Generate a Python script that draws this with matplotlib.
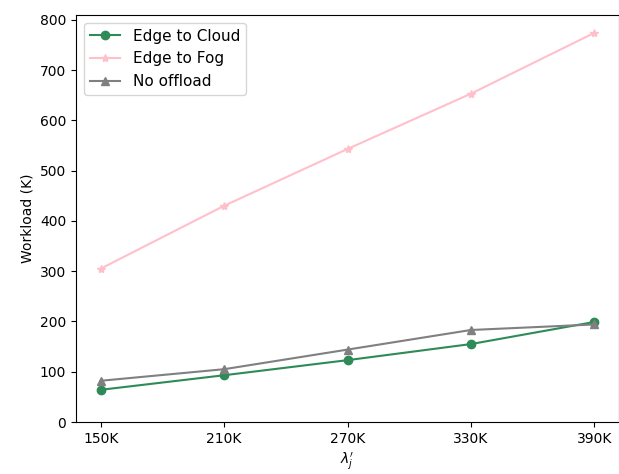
import matplotlib
matplotlib.use('Agg')
import matplotlib.pyplot as plt

# Workload per arrival rate
rates = ['150K', '210K', '270K', '330K', '390K']
edge_to_cloud = [64, 93, 123, 155, 199]
edge_to_fog = [305, 430, 543, 653, 774]
no_offload = [82, 105, 144, 183, 194]

fig = plt.figure(figsize=(6.19, 4.74), dpi=100)
ax = fig.add_axes([76 / 619, 52 / 474, 543 / 619, 407 / 474])

x = range(len(rates))
ax.plot(x, edge_to_cloud, marker='o', color='seagreen', label='Edge to Cloud')
ax.plot(x, edge_to_fog, marker='*', color='pink', label='Edge to Fog')
ax.plot(x, no_offload, marker='^', color='gray', label='No offload')

ax.set_xticks(list(x))
ax.set_xticklabels(rates)
ax.set_ylim(bottom=0)
ax.set_xlabel(r"$\lambda_j'$")
ax.set_ylabel('Workload (K)')
ax.legend(loc='upper left', fontsize=11)

fig.savefig('out.png', dpi=100)
